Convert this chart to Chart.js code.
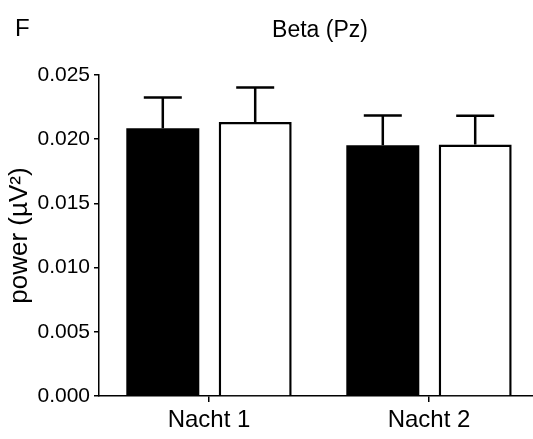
<!DOCTYPE html>
<html>
<head>
<meta charset="utf-8">
<script src="https://cdn.jsdelivr.net/npm/chart.js@4"></script>
<style>
  html, body { margin: 0; padding: 0; background: #fff; overflow: hidden; }
  #wrap { width: 539px; height: 439px; }
</style>
</head>
<body>
<div id="wrap"><canvas id="myChart"></canvas></div>
<script>
const categories = ['Nacht 1', 'Nacht 2'];
const blackValues = [0.02085, 0.01952];
const blackErrors = [0.00240, 0.00233];
const whiteValues = [0.02134, 0.01958];
const whiteErrors = [0.00269, 0.00224];
const yTicks = [0, 0.005, 0.010, 0.015, 0.020, 0.025];

const fontFamily = '"Liberation Sans", Arial, Helvetica, sans-serif';

// error bars (upper only) + panel letter + title
const extras = {
    id: 'extras',
    afterDatasetsDraw(chart) {
        const ctx = chart.ctx;
        const y = chart.scales.y;
        ctx.save();
        ctx.strokeStyle = '#000';
        ctx.lineWidth = 2.5;
        chart.data.datasets.forEach(function(ds, i) {
            const meta = chart.getDatasetMeta(i);
            meta.data.forEach(function(bar, j) {
                const top = y.getPixelForValue(ds.data[j] + ds.errors[j]);
                ctx.beginPath();
                ctx.moveTo(bar.x, bar.y);
                ctx.lineTo(bar.x, top);
                ctx.moveTo(bar.x - 19, top);
                ctx.lineTo(bar.x + 19, top);
                ctx.stroke();
            });
        });
        ctx.fillStyle = '#000';
        ctx.textBaseline = 'alphabetic';
        ctx.font = '24px ' + fontFamily;
        ctx.textAlign = 'left';
        ctx.fillText('F', 15, 36);
        ctx.font = '23px ' + fontFamily;
        ctx.textAlign = 'center';
        ctx.fillText('Beta (Pz)', 320, 37);
        ctx.restore();
    }
};

const data = {
    labels: categories,
    datasets: [{
        label: 'black',
        data: blackValues,
        errors: blackErrors,
        backgroundColor: '#000',
        borderColor: '#000',
        borderWidth: 0,
        categoryPercentage: 0.84,
        barPercentage: 0.79
    }, {
        label: 'white',
        data: whiteValues,
        errors: whiteErrors,
        backgroundColor: '#fff',
        borderColor: '#000',
        borderWidth: 2.5,
        categoryPercentage: 0.84,
        barPercentage: 0.79
    }]
};

const config = {
    type: 'bar',
    data: data,
    plugins: [extras],
    options: {
        responsive: true,
        maintainAspectRatio: false,
        animation: false,
        layout: {
            padding: { top: 75, right: 0, bottom: 0, left: 0 }
        },
        plugins: {
            legend: { display: false },
            tooltip: { enabled: false }
        },
        scales: {
            x: {
                grid: {
                    display: true,
                    drawOnChartArea: false,
                    offset: false,
                    color: '#000',
                    tickLength: 6,
                    lineWidth: 1.5
                },
                border: { display: true, color: '#000', width: 1.5 },
                ticks: {
                    color: '#000',
                    padding: 4,
                    font: { family: fontFamily, size: 24 }
                },
                afterFit: function(scale) { scale.height = 43; }
            },
            y: {
                min: 0,
                max: 0.025,
                afterBuildTicks: function(scale) {
                    scale.ticks = yTicks.map(function(v) { return { value: v }; });
                },
                grid: {
                    display: true,
                    drawOnChartArea: false,
                    color: '#000',
                    tickLength: 5,
                    lineWidth: 1.5
                },
                border: { display: true, color: '#000', width: 1.5 },
                ticks: {
                    color: '#000',
                    padding: 4,
                    font: { family: fontFamily, size: 21 },
                    callback: function(v) { return v.toFixed(3); }
                },
                title: {
                    display: true,
                    text: 'power (µV²)',
                    color: '#000',
                    padding: { top: 4, bottom: 0 },
                    font: { family: fontFamily, size: 26 }
                },
                afterFit: function(scale) { scale.width = 99; }
            }
        }
    }
};

const myChart = new Chart(document.getElementById('myChart'), config);
</script>
</body>
</html>
